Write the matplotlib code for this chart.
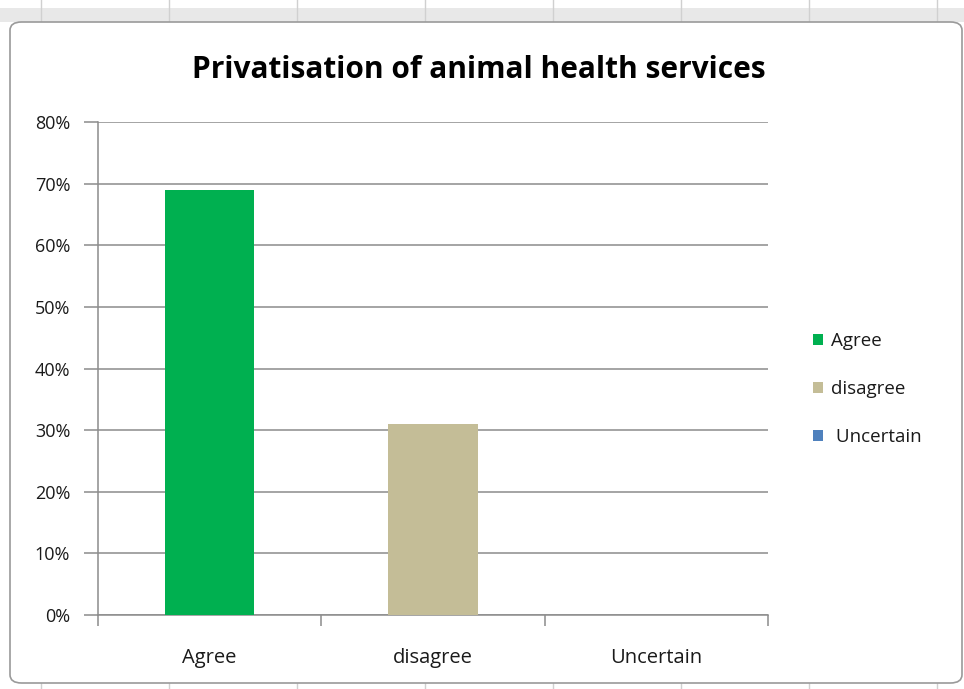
import matplotlib
matplotlib.use("Agg")
import matplotlib.pyplot as plt
from matplotlib.patches import FancyBboxPatch, Rectangle
from matplotlib.lines import Line2D
from matplotlib.ticker import FuncFormatter, MultipleLocator

categories = ["Agree", "disagree", "Uncertain"]
legend_labels = ["Agree", "disagree", " Uncertain"]
values = [0.69, 0.31, 0.0]
colors = ["#00B050", "#C4BD97", "#4F81BD"]
title = "Privatisation of animal health services"

W, H = 964, 689
fig = plt.figure(figsize=(W / 100, H / 100), dpi=100)
plt.rcParams['font.family'] = ['Open Sans', 'DejaVu Sans']

def fx(px):
    return px / W

def fy(py):
    return 1 - py / H

# spreadsheet background
fig.patches.append(Rectangle((0, fy(22)), 1, fy(8) - fy(22), transform=fig.transFigure,
                             facecolor="#E8E8E8", edgecolor="none", zorder=0))
for x in [41, 169, 297, 425, 553, 681, 809, 937]:
    fig.lines.append(Line2D([fx(x), fx(x)], [fy(0), fy(22)], transform=fig.transFigure,
                            color="#D0D0D0", lw=1, zorder=0.5))
    fig.lines.append(Line2D([fx(x), fx(x)], [fy(683), fy(689)], transform=fig.transFigure,
                            color="#D0D0D0", lw=1, zorder=0.5))
# chart area box
fig.patches.append(FancyBboxPatch((fx(10), fy(683)), fx(962) - fx(10), fy(22) - fy(683),
                                  boxstyle="round,pad=0,rounding_size=0.012",
                                  transform=fig.transFigure, facecolor="white",
                                  edgecolor="#9A9A9A", lw=1.2, zorder=1))

ax = fig.add_axes([fx(98), fy(615), fx(768) - fx(98), fy(122) - fy(615)])
ax.set_zorder(2)
ax.patch.set_alpha(0)

x = list(range(len(categories)))
bars = ax.bar(x, values, width=0.4, color=colors, zorder=3)
ax.set_xlim(-0.5, len(categories) - 0.5)
ax.set_ylim(0, 0.8)
ax.yaxis.set_major_locator(MultipleLocator(0.1))
ax.yaxis.set_major_formatter(FuncFormatter(lambda v, p: f"{v*100:.0f}%"))
ax.grid(axis="y", color="#8C8C8C", lw=1.1, zorder=0)
ax.set_axisbelow(True)
for s in ["top", "right"]:
    ax.spines[s].set_visible(False)
for s in ["left", "bottom"]:
    ax.spines[s].set_color("#8C8C8C")
    ax.spines[s].set_linewidth(1.1)
ax.set_xticks(x)
ax.set_xticklabels(categories, fontsize=14.5)
ax.tick_params(axis="x", length=0, pad=24, colors="#1A1A1A")
ax.set_xticks([i + 0.5 for i in range(-1, len(categories))], minor=True)
ax.tick_params(axis="x", which="minor", length=8, color="#8C8C8C", width=1.1)
ax.tick_params(axis="y", length=10, color="#8C8C8C", width=1.1, labelsize=13, pad=10,
               labelcolor="#1A1A1A")

fig.text(fx(479), fy(70), title, ha="center", va="center", fontsize=21.5, fontweight="bold")

handles = [Rectangle((0, 0), 1, 1, facecolor=c) for c in colors]
fig.legend(handles, legend_labels, loc="center left", bbox_to_anchor=(fx(796), fy(389)),
           frameon=False, fontsize=13.5, handlelength=0.55, handleheight=0.55,
           handletextpad=0.4, labelspacing=1.6, labelcolor="#1A1A1A")

fig.savefig("out.png", dpi=100)
